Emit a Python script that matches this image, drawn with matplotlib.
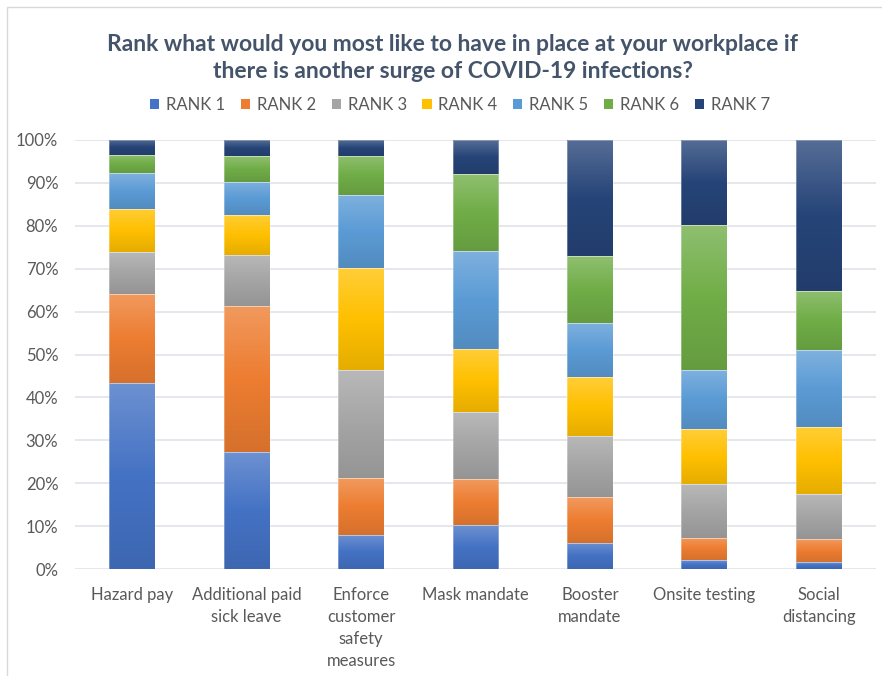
"""Stacked 100% bar chart: workplace measures ranking during a COVID-19 surge."""
import numpy as np
import matplotlib
matplotlib.use("Agg")
import matplotlib.pyplot as plt
from matplotlib.colors import LinearSegmentedColormap, to_rgb
from matplotlib.patches import Patch, Rectangle

categories = [
    "Hazard pay",
    "Additional paid\nsick leave",
    "Enforce\ncustomer\nsafety\nmeasures",
    "Mask mandate",
    "Booster\nmandate",
    "Onsite testing",
    "Social\ndistancing",
]
series_names = ["RANK 1", "RANK 2", "RANK 3", "RANK 4", "RANK 5", "RANK 6", "RANK 7"]

# percentages
rank1 = [43.3, 27.2, 8.0, 10.2, 6.1, 2.0, 1.6]
rank2 = [20.7, 34.1, 13.1, 10.7, 10.6, 5.2, 5.3]
rank3 = [9.9, 11.9, 25.3, 15.6, 14.4, 12.7, 10.6]
rank4 = [10.1, 9.4, 23.7, 14.8, 13.6, 12.8, 15.7]
rank5 = [8.3, 7.7, 17.1, 22.9, 12.7, 13.8, 17.8]
rank6 = [4.2, 6.0, 9.1, 17.9, 15.6, 33.6, 13.9]
rank7 = [3.5, 3.7, 3.7, 7.9, 27.0, 19.9, 35.1]

colors = ["#4472C4", "#ED7D31", "#A5A5A5", "#FFC000", "#5B9BD5", "#70AD47", "#264478"]

FONT = ["Lato", "DejaVu Sans"]
TEXT_GRAY = "#595959"
TITLE_COLOR = "#44546A"


def mix(c, other, t):
    c = np.array(to_rgb(c))
    o = np.array(to_rgb(other))
    return tuple(c * (1 - t) + o * t)


def gradient_cmap(base):
    # bottom (dark) -> middle (base) -> top (light), like Excel's preset gradient
    return LinearSegmentedColormap.from_list(
        "g", [mix(base, "black", 0.10), to_rgb(base), mix(base, "white", 0.22)]
    )


def main() -> None:
    plt.rcParams["font.family"] = FONT

    data = np.array([rank1, rank2, rank3, rank4, rank5, rank6, rank7], dtype=float)
    data = data / data.sum(axis=0) * 100.0

    fig = plt.figure(figsize=(8.82, 6.76), dpi=100)
    ax = fig.add_axes([75 / 882, 1 - 569 / 676, (876 - 75) / 882, (569 - 140) / 676])

    x = np.arange(len(categories))
    width = 0.4
    bottom = np.zeros(len(categories))
    grad = np.linspace(0, 1, 256).reshape(-1, 1)
    for i, (name, vals) in enumerate(zip(series_names, data)):
        cmap = gradient_cmap(colors[i])
        bars = ax.bar(x, vals, width, bottom=bottom, color=colors[i], label=name,
                      edgecolor="none", zorder=2)
        for b in bars:
            x0, y0 = b.get_x(), b.get_y()
            ax.imshow(grad, cmap=cmap, origin="lower", aspect="auto", zorder=3,
                      extent=[x0, x0 + b.get_width(), y0, y0 + b.get_height()],
                      interpolation="bilinear")
            ax.add_patch(Rectangle((x0, y0), b.get_width(), b.get_height(), fill=False,
                                   edgecolor=(1, 1, 1, 0.35), lw=0.6, zorder=4))
        bottom += vals

    ax.set_xlim(-0.5, len(categories) - 0.5)
    ax.set_ylim(0, 100)
    ax.set_yticks(np.arange(0, 101, 10))
    ax.set_yticklabels([f"{v}%" for v in range(0, 101, 10)])
    ax.set_xticks(x)
    ax.set_xticklabels(categories, linespacing=1.47)
    ax.tick_params(axis="both", length=0, labelsize=12, labelcolor=TEXT_GRAY)
    ax.tick_params(axis="y", pad=12)
    ax.tick_params(axis="x", pad=13)
    for lbl in ax.get_xticklabels():
        lbl.set_verticalalignment("top")
    ax.grid(axis="y", color="#E0E3EA", linewidth=1.2, zorder=0)
    ax.set_axisbelow(True)
    for s in ax.spines.values():
        s.set_visible(False)

    handles = [Patch(facecolor=c, edgecolor="none") for c in colors]
    fig.legend(handles, series_names, loc="center", bbox_to_anchor=(0.5215, 1 - 105 / 676),
               ncol=7, frameon=False, fontsize=12, labelcolor=TEXT_GRAY,
               handlelength=0.55, handleheight=0.55, handletextpad=0.4, columnspacing=0.95)

    fig.text(0.513, 1 - 58 / 676,
             "Rank what would you most like to have in place at your workplace if\n"
             "there is another surge of COVID-19 infections?",
             ha="center", va="center", fontsize=16.5, fontweight="bold",
             color=TITLE_COLOR, linespacing=1.32)

    # outer chart frame (only left and top edges fall inside the image)
    fig.add_artist(Rectangle((7 / 882, -0.1), 1.2, 1 - 7 / 676 + 0.1,
                             transform=fig.transFigure, fill=False,
                             edgecolor="#D9D9D9", lw=1))

    fig.savefig("out.png", dpi=100)


if __name__ == "__main__":
    main()
